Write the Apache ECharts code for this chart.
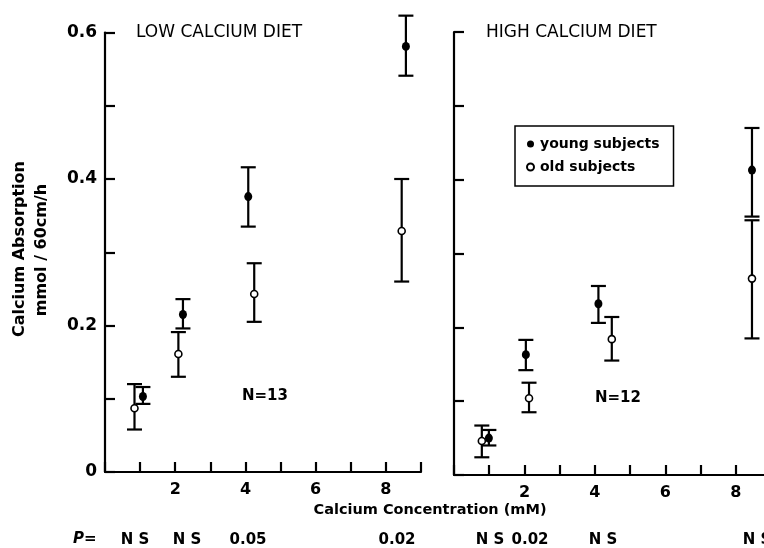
<!DOCTYPE html>
<html>
<head>
<meta charset="utf-8">
<script src="https://cdn.jsdelivr.net/npm/echarts@6/dist/echarts.min.js"></script>
<style>
html,body{margin:0;padding:0;background:#fff;}
#chart{width:764px;height:548px;}
</style>
</head>
<body>
<div id="chart"></div>
<script>
// ---- data (x = plotted position on the concentration axis) ----
const xTicks = [1, 2, 3, 4, 5, 6, 7, 8, 9];
const xTickLabels = ['', '2', '', '4', '', '6', '', '8', ''];
const yTickLabels = ['0', '', '0.2', '', '0.4', '', '0.6'];

// Low calcium diet (N=13)
const lowYoungX  = [1.08, 2.22, 4.08, 8.57];
const lowYoungY  = [0.103, 0.215, 0.376, 0.581];
const lowYoungHi = [0.116, 0.236, 0.416, 0.623];
const lowYoungLo = [0.093, 0.196, 0.335, 0.541];
const lowOldX  = [0.84, 2.09, 4.25, 8.45];
const lowOldY  = [0.087, 0.161, 0.243, 0.329];
const lowOldHi = [0.120, 0.191, 0.285, 0.400];
const lowOldLo = [0.058, 0.130, 0.205, 0.260];

// High calcium diet (N=12)
const highYoungX  = [0.99, 2.04, 4.10, 8.46];
const highYoungY  = [0.050, 0.163, 0.232, 0.413];
const highYoungHi = [0.061, 0.183, 0.256, 0.470];
const highYoungLo = [0.040, 0.142, 0.206, 0.350];
const highOldX  = [0.79, 2.13, 4.48, 8.46];
const highOldY  = [0.046, 0.104, 0.184, 0.266];
const highOldHi = [0.067, 0.125, 0.214, 0.345];
const highOldLo = [0.024, 0.085, 0.155, 0.185];

// P values row
const pLabels = ['N S', 'N S', '0.05', '0.02', 'N S', '0.02', 'N S', 'N S'];

const FONT = 'DejaVu Sans';
const INK = '#000';

function pts(xs, ys) { return xs.map((x, i) => [x, ys[i]]); }
function bars(xs, lo, hi) { return xs.map((x, i) => [x, lo[i], hi[i]]); }

function errRender(params, api) {
  const x = api.value(0);
  const lo = api.coord([x, api.value(1)]);
  const hi = api.coord([x, api.value(2)]);
  const w = 7.5;
  const st = { stroke: INK, lineWidth: 2.2 };
  return {
    type: 'group',
    children: [
      { type: 'line', shape: { x1: lo[0], y1: lo[1], x2: hi[0], y2: hi[1] }, style: st },
      { type: 'line', shape: { x1: lo[0] - w, y1: lo[1], x2: lo[0] + w, y2: lo[1] }, style: st },
      { type: 'line', shape: { x1: hi[0] - w, y1: hi[1], x2: hi[0] + w, y2: hi[1] }, style: st }
    ]
  };
}

function xAxisCfg(gi) {
  return {
    type: 'value', gridIndex: gi, min: 0, max: 9, interval: 1,
    axisLine: { show: true, lineStyle: { color: INK, width: 2.2 } },
    axisTick: { show: true, inside: true, length: 10, lineStyle: { color: INK, width: 2.2 } },
    axisLabel: {
      margin: 10, color: INK, fontFamily: FONT, fontWeight: 'bold', fontSize: 16,
      formatter: v => xTickLabels[xTicks.indexOf(Math.round(v))] || ''
    },
    splitLine: { show: false }
  };
}
function yAxisCfg(gi, showLabels) {
  return {
    type: 'value', gridIndex: gi, min: 0, max: 0.6, interval: 0.1,
    axisLine: { show: true, lineStyle: { color: INK, width: 2.2 } },
    axisTick: { show: true, inside: true, length: 10, lineStyle: { color: INK, width: 2.2 } },
    axisLabel: {
      show: showLabels, margin: 8, color: INK, fontFamily: FONT, fontWeight: 'bold', fontSize: 17,
      formatter: v => yTickLabels[Math.round(v * 10)] || ''
    },
    splitLine: { show: false }
  };
}

const youngStyle = { color: INK, opacity: 1 };
const oldStyle = { color: '#fff', borderColor: INK, borderWidth: 1.6, opacity: 1 };

const series = [];
[[0, lowYoungX, lowYoungY, lowYoungLo, lowYoungHi, lowOldX, lowOldY, lowOldLo, lowOldHi],
 [1, highYoungX, highYoungY, highYoungLo, highYoungHi, highOldX, highOldY, highOldLo, highOldHi]]
.forEach(([gi, yx, yy, ylo, yhi, ox, oy, olo, ohi]) => {
  series.push({ type: 'custom', xAxisIndex: gi, yAxisIndex: gi, renderItem: errRender,
    data: bars(yx, ylo, yhi), z: 2, silent: true, clip: false });
  series.push({ type: 'custom', xAxisIndex: gi, yAxisIndex: gi, renderItem: errRender,
    data: bars(ox, olo, ohi), z: 2, silent: true, clip: false });
  series.push({ name: 'young subjects', type: 'scatter', xAxisIndex: gi, yAxisIndex: gi,
    symbol: 'circle', symbolSize: [8, 9], itemStyle: youngStyle, data: pts(yx, yy), z: 5 });
  series.push({ name: 'old subjects', type: 'scatter', xAxisIndex: gi, yAxisIndex: gi,
    symbol: 'circle', symbolSize: 7, itemStyle: oldStyle, data: pts(ox, oy), z: 5 });
});

const txt = (text, x, y, opts) => Object.assign({
  type: 'text', x: x, y: y,
  style: Object.assign({ text: text, fill: INK, font: 'bold 16px "' + FONT + '"',
    textAlign: 'center', textVerticalAlign: 'middle' }, (opts && opts.style) || {})
}, (opts && opts.el) || {});

const pX = [135, 187, 248, 397, 490, 530, 603, 757];
const graphics = [
  txt('Calcium Absorption', 20, 249, { el: { rotation: Math.PI / 2 } }),
  txt('mmol / 60cm/h', 42, 250, { el: { rotation: Math.PI / 2 } }),
  txt('LOW CALCIUM DIET', 136, 33, { style: { textAlign: 'left', font: '17px "' + FONT + '"' } }),
  txt('HIGH CALCIUM DIET', 486, 33, { style: { textAlign: 'left', font: '17px "' + FONT + '"' } }),
  txt('Calcium Concentration (mM)', 430, 510, { style: { font: 'bold 14.5px "' + FONT + '"' } }),
  txt('N=13', 265, 396, { style: { font: 'bold 15px "' + FONT + '"' } }),
  txt('N=12', 618, 398, { style: { font: 'bold 15px "' + FONT + '"' } }),
  txt('P=', 73, 539, { style: { textAlign: 'left', font: 'italic bold 15px "' + FONT + '"' } })
];
pLabels.forEach((t, i) => graphics.push(txt(t, pX[i], 540, { style: { font: 'bold 15px "' + FONT + '"' } })));

const chart = echarts.init(document.getElementById('chart'), null, { renderer: 'canvas' });
chart.setOption({
  backgroundColor: '#fff',
  animation: false,
  grid: [
    { left: 105, top: 32.5, width: 316, height: 439.5, outerBoundsMode: 'none', containLabel: false },
    { left: 454, top: 32, width: 317, height: 443, outerBoundsMode: 'none', containLabel: false }
  ],
  xAxis: [xAxisCfg(0), xAxisCfg(1)],
  yAxis: [yAxisCfg(0, true), yAxisCfg(1, false)],
  legend: {
    data: ['young subjects', 'old subjects'],
    orient: 'vertical', left: 515, top: 126,
    padding: [11, 14, 12, 11], itemGap: 9,
    itemWidth: 9, itemHeight: 7,
    borderColor: INK, borderWidth: 1.5, borderRadius: 0,
    textStyle: { color: INK, fontFamily: FONT, fontWeight: 'bold', fontSize: 14 },
    selectedMode: false
  },
  graphic: graphics,
  series: series
});
</script>
</body>
</html>
